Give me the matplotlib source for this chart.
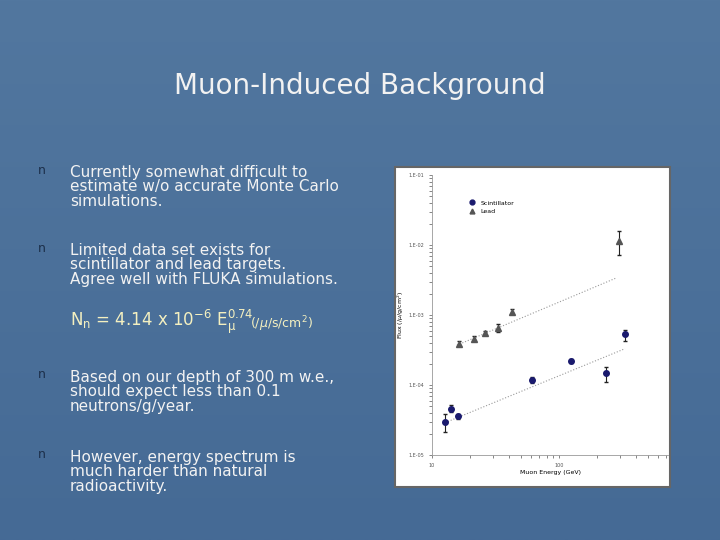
import matplotlib
matplotlib.use("Agg")
import matplotlib.pyplot as plt
from matplotlib.patches import Rectangle
from matplotlib.lines import Line2D
import numpy as np

sc_x = [12.7, 14.2, 16.0, 61.5, 124, 233, 330]
sc_y = [3.0e-5, 4.6e-5, 3.6e-5, 1.19e-4, 2.2e-4, 1.47e-4, 5.3e-4]
sc_lo = [2.15e-5, 4.1e-5, 3.3e-5, 1.08e-4, 2.05e-4, 1.09e-4, 4.3e-4]
sc_hi = [3.9e-5, 5.1e-5, 3.9e-5, 1.3e-4, 2.35e-4, 1.83e-4, 6.2e-4]
pb_x = [16.2, 21.4, 26.3, 33.2, 42.8, 294]
pb_y = [3.9e-4, 4.6e-4, 5.5e-4, 6.5e-4, 1.12e-3, 1.14e-2]
pb_lo = [3.6e-4, 4.2e-4, 5.1e-4, 5.8e-4, 1.03e-3, 7.2e-3]
pb_hi = [4.2e-4, 5.0e-4, 5.9e-4, 7.4e-4, 1.22e-3, 1.58e-2]
fit_pb_x = [15.7, 284]; fit_pb_y = [3.7e-4, 3.4e-3]
fit_sc_x = [12.7, 330]; fit_sc_y = [2.9e-5, 3.3e-4]
xticks = [10, 100]; xtick_labels = ["10", "100"]
yticks = [1e-5, 1e-4, 1e-3, 1e-2, 1e-1]
ytick_labels = ["1.E-05", "1.E-04", "1.E-03", "1.E-02", "1.E-01"]

W, H = 720, 540
fig = plt.figure(figsize=(7.2, 5.4), dpi=100)
fig.patch.set_facecolor("#4d729c")
bg = fig.add_axes([0, 0, 1, 1]); bg.set_axis_off()
bg.set_xlim(0, W); bg.set_ylim(H, 0)
grad = np.linspace(0, 1, 256).reshape(-1, 1)
bg.imshow(grad, extent=[0, W, H, 0], cmap=matplotlib.colors.LinearSegmentedColormap.from_list("b", ["#52779f", "#456a95"]), aspect="auto")

tc = "#f2f2f2"
bg.text(360, 86, "Muon-Induced Background", ha="center", va="center", fontsize=20, color=tc)
bullets = [
    (175, "Currently somewhat difficult to\nestimate w/o accurate Monte Carlo\nsimulations."),
    (253, "Limited data set exists for\nscintillator and lead targets.\nAgree well with FLUKA simulations."),
    (380, "Based on our depth of 300 m w.e.,\nshould expect less than 0.1\nneutrons/g/year."),
    (460, "However, energy spectrum is\nmuch harder than natural\nradioactivity."),
]
for y, t in bullets:
    bg.text(38, y - 5, "n", fontsize=9, color="#1c2f4a", va="center", family="DejaVu Sans")
    bg.text(70, y - 10, t, fontsize=11, color=tc, va="top", linespacing=0.95)
bg.text(70, 322, r"N$_\mathrm{n}$ = 4.14 x 10$^{\mathrm{-6}}$ E$_\mathrm{\mu}^{\mathrm{0.74}}$", fontsize=12, color="#f4f0c0", va="center")
bg.text(250, 324, r"(/$\mu$/s/cm$^2$)", fontsize=9, color="#f4f0c0", va="center")
bg.add_patch(Rectangle((395, 167), 275, 320, facecolor="white", edgecolor="#666666", lw=1.5))

ax = fig.add_axes([432 / W, (H - 455) / H, (668 - 432) / W, (455 - 175) / H])
ax.set_xscale("log"); ax.set_yscale("log")
ax.set_xlim(10, 720); ax.set_ylim(1e-5, 1e-1)
ax.plot(fit_pb_x, fit_pb_y, ls=":", color="#999999", lw=0.8)
ax.plot(fit_sc_x, fit_sc_y, ls=":", color="#999999", lw=0.8)
sy = np.array(sc_y)
ax.errorbar(sc_x, sc_y, yerr=[sy - np.array(sc_lo), np.array(sc_hi) - sy], fmt="o", color="#1a1a6e", ms=4, ecolor="#222222", elinewidth=0.8, capsize=1.5)
py = np.array(pb_y)
ax.errorbar(pb_x, pb_y, yerr=[py - np.array(pb_lo), np.array(pb_hi) - py], fmt="^", color="#555555", ms=4, ecolor="#222222", elinewidth=0.8, capsize=1.5)
ax.set_xticks(xticks); ax.set_xticklabels(xtick_labels)
ax.set_yticks(yticks); ax.set_yticklabels(ytick_labels)
ax.tick_params(labelsize=3.5, colors="#555555", length=2, width=0.5, which="both")
for s in ["top", "right"]:
    ax.spines[s].set_visible(False)
for s in ["left", "bottom"]:
    ax.spines[s].set_color("#999999"); ax.spines[s].set_linewidth(0.6)
ax.set_xlabel("Muon Energy (GeV)", fontsize=4.5, labelpad=2)
ax.set_ylabel(r"Flux (/$\mu$/g/cm$^2$)", fontsize=4.5, labelpad=2)
handles = [Line2D([], [], marker="o", ls="", color="#1a1a6e", ms=3.5),
           Line2D([], [], marker="^", ls="", color="#555555", ms=3.5)]
ax.legend(handles, ["Scintillator", "Lead"], loc="upper left", bbox_to_anchor=(0.12, 0.93), fontsize=4.5, frameon=False, handletextpad=0.3)
fig.savefig("out.png", dpi=100)
